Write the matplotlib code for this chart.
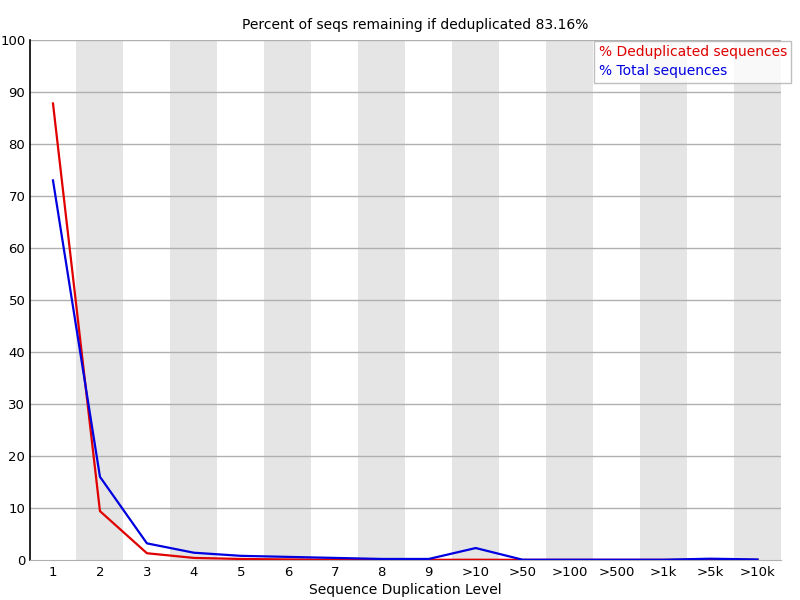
import matplotlib
matplotlib.use("Agg")
import matplotlib.pyplot as plt

categories = ["1", "2", "3", "4", "5", "6", "7", "8", "9", ">10", ">50", ">100", ">500", ">1k", ">5k", ">10k"]
dedup = [87.8, 9.4, 1.3, 0.4, 0.2, 0.1, 0.05, 0.03, 0.03, 0.05, 0.02, 0.02, 0.02, 0.02, 0.05, 0.02]
total = [73.0, 16.0, 3.2, 1.4, 0.8, 0.6, 0.4, 0.2, 0.2, 2.3, 0.05, 0.05, 0.05, 0.05, 0.25, 0.1]
title = "Percent of seqs remaining if deduplicated 83.16%"

plt.rcParams['font.family'] = ['DejaVu Sans']
fig = plt.figure(figsize=(8, 6), dpi=100)
ax = fig.add_axes([29.5/800, 40/600, 751.5/800, 520/600])

n = len(categories)
x = list(range(n))
for i in x:
    if i % 2 == 1:
        ax.axvspan(i - 0.5, i + 0.5, color="#e5e5e5", lw=0, zorder=0)

for yv in range(10, 101, 10):
    ax.axhline(yv, color="#b0b0b0", lw=1, zorder=1)

ax.plot(x, dedup, color="#e00000", lw=1.6, zorder=3, label="% Deduplicated sequences")
ax.plot(x, total, color="#0000e0", lw=1.6, zorder=3, label="% Total sequences")

ax.set_xlim(-0.5, n - 0.5)
ax.set_ylim(0, 100)
ax.set_xticks(x)
ax.set_xticklabels(categories)
ax.set_yticks(range(0, 101, 10))
ax.tick_params(axis="both", length=0, labelsize=9.5, colors="#000000")
ax.tick_params(axis="y", pad=3)
ax.tick_params(axis="x", pad=4)
for s in ["top", "right"]:
    ax.spines[s].set_visible(False)
ax.spines["bottom"].set_color("#b0b0b0")
ax.spines["left"].set_color("#000000")
ax.spines["left"].set_linewidth(1.2)

ax.set_xlabel("Sequence Duplication Level", fontsize=10, labelpad=3)
fig.text(415/800, 1 - 25/600, title, ha="center", va="center", fontsize=10)

leg = fig.legend(loc="upper right", bbox_to_anchor=(791/800, 1 - 40.5/600), frameon=True,
                 fontsize=10, handlelength=0, handletextpad=0, borderpad=0.3,
                 labelspacing=0.42, fancybox=False, borderaxespad=0)
leg.get_frame().set_edgecolor("#b0b0b0")
leg.get_frame().set_linewidth(1)
for h in leg.legend_handles:
    h.set_visible(False)
for t, c in zip(leg.get_texts(), ["#e00000", "#0000e0"]):
    t.set_color(c)

fig.savefig("out.png", dpi=100)
